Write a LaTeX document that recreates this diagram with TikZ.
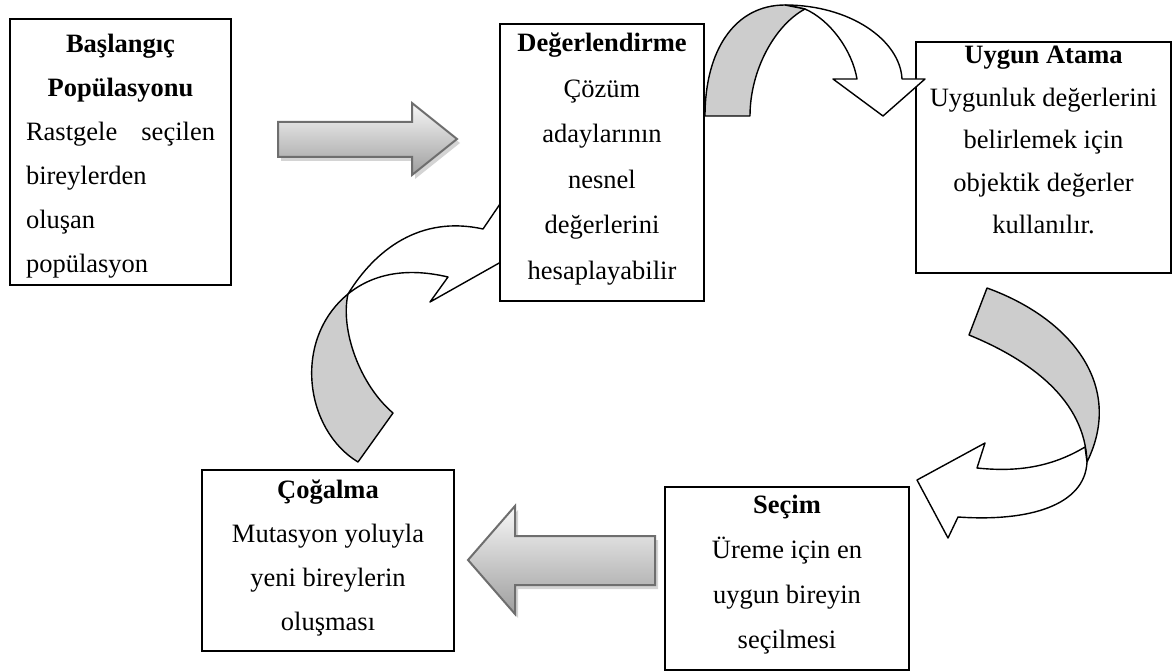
\documentclass[tikz,border=0pt]{standalone}
\usepackage{fontspec}
\setmainfont{Liberation Serif}
\definecolor{bandgrey}{RGB}{205,205,205}
\definecolor{arrline}{RGB}{110,110,110}
\definecolor{shadowc}{RGB}{212,212,212}
\newcommand{\boxfont}[1]{\fontsize{26.5}{#1}\selectfont}
\begin{document}
\begin{tikzpicture}[x=1pt,y=-1pt,
  boxst/.style={draw=black, line width=2pt, fill=white, inner sep=0pt, anchor=north west},
  flat/.style={draw=black, line width=1.4pt, line join=round},
  gradarrow/.style={draw=arrline, line width=2pt, top color=white!97!black, bottom color=black!38, line join=miter},
  shadowst/.style={fill=shadowc}]
\useasboundingbox (0,0) rectangle (1172,671);

% ---- straight gradient arrow (Baslangic -> Degerlendirme)
\begin{scope}[shift={(3,4)}]
  \path[shadowst] (278,122) -- (412,122) -- (412,103) -- (457,139) -- (412,175) -- (412,157) -- (278,157) -- cycle;
\end{scope}
\path[gradarrow] (278,122) -- (412,122) -- (412,103) -- (457,139) -- (412,175) -- (412,157) -- (278,157) -- cycle;

% ---- straight gradient arrow (Secim -> Cogalma)
\begin{scope}[shift={(3,4)}]
  \path[shadowst] (655,536) -- (515,536) -- (515,506) -- (468,560) -- (515,614) -- (515,585) -- (655,585) -- cycle;
\end{scope}
\path[gradarrow] (655,536) -- (515,536) -- (515,506) -- (468,560) -- (515,614) -- (515,585) -- (655,585) -- cycle;

% ---- curved arrow Cogalma -> Degerlendirme (behind box)
\path[flat, fill=white] (348,294) .. controls (375,250) and (420,215) .. (483,229) -- (500,204) -- (540,240) -- (430,302) -- (448,277) .. controls (410,268) and (375,272) .. (348,294) -- cycle;
\path[flat, fill=bandgrey] (358,462) .. controls (305,430) and (292,340) .. (348,294) .. controls (340,330) and (360,385) .. (393,413) -- cycle;

% ---- curved arrow Uygun Atama -> Secim
\path[flat, fill=bandgrey] (969,335) -- (987,288) .. controls (1070,318) and (1125,385) .. (1087,462) .. controls (1085,400) and (1030,360) .. (969,335) -- cycle;
\path[flat, fill=white] (1085,447) .. controls (1050,468) and (1015,472) .. (977,468) -- (985,443) -- (917,480) -- (948,538) -- (958,517) .. controls (1030,522) and (1085,505) .. (1087,462) -- cycle;

% ---- boxes
\node[boxst] (b1) at (9,18) {\parbox[t][266pt][t]{221pt}{\boxfont{44}\parindent=0pt\leftskip=16pt\rightskip=16pt plus 1fil\parfillskip=0pt plus 1fil
\rule{0pt}{34pt}\hfill\textbf{Başlangıç}\hfill\null\\
\null\hfill\textbf{Popülasyonu}\hfill\null\\
Rastgele\hfill seçilen\\
bireylerden\\
oluşan\\
popülasyon}};

\node[boxst] (b2) at (499,23) {\parbox[t][277pt][t]{204pt}{\boxfont{45.5}\centering
\rule{0pt}{28pt}\textbf{Değerlendirme}\\
Çözüm\\
adaylarının\\
nesnel\\
değerlerini\\
hesaplayabilir}};

\node[boxst] (b3) at (915,41) {\parbox[t][231pt][t]{255pt}{\boxfont{42.5}\centering
\rule{0pt}{22pt}\textbf{Uygun Atama}\\
Uygunluk değerlerini\\
belirlemek için\\
objektik değerler\\
kullanılır.}};

\node[boxst] (b4) at (664,486) {\parbox[t][183pt][t]{244pt}{\boxfont{45}\centering
\rule{0pt}{26pt}\textbf{Seçim}\\
Üreme için en\\
uygun bireyin\\
seçilmesi}};

\node[boxst] (b5) at (201,469) {\parbox[t][181pt][t]{252pt}{\boxfont{44}\centering
\rule{0pt}{28pt}\textbf{Çoğalma}\\
Mutasyon yoluyla\\
yeni bireylerin\\
oluşması}};

% ---- curved arrow Degerlendirme -> Uygun Atama (in front)
\path[flat, fill=white] (785,5) .. controls (850,5) and (900,40) .. (902,79) -- (925,79) -- (883,116) -- (833,79) -- (857,79) .. controls (852,50) and (830,20) .. (805,9) -- cycle;
\path[flat, fill=bandgrey] (705,116) .. controls (705,50) and (735,5) .. (785,5) -- (805,9) .. controls (775,25) and (750,70) .. (750,116) -- cycle;
\end{tikzpicture}
\end{document}
